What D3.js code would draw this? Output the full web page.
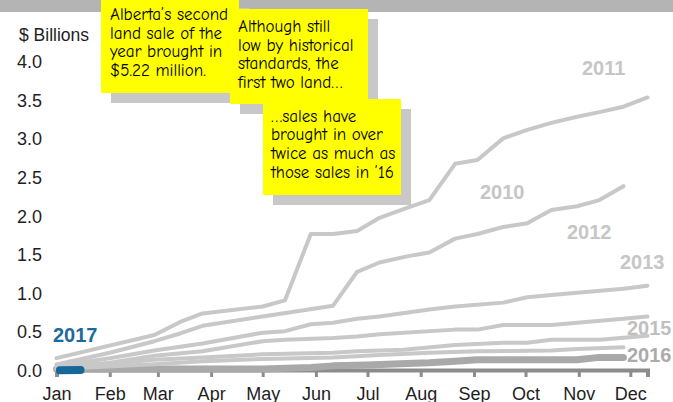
<!DOCTYPE html>
<html>
<head>
<meta charset="utf-8">
<script src="https://cdn.jsdelivr.net/npm/d3@7"></script>
<style>
  body { margin: 0; background: #fff; }
  svg { display: block; }
</style>
</head>
<body>
<script>
// ---------- DATA ----------
const monthLabels = ["Jan","Feb","Mar","Apr","May","Jun","Jul","Aug","Sep","Oct","Nov","Dec"];
const yTicks = [0, 0.5, 1.0, 1.5, 2.0, 2.5, 3.0, 3.5, 4.0];

// cumulative land sale revenue, $ billions, by sale date (MM-DD)
const s2011 = [["01-01",0.16],["02-27",0.46],["03-14",0.63],["03-27",0.74],["05-01",0.83],["05-14",0.91],
  ["05-29",1.77],["06-11",1.77],["06-25",1.81],["07-08",1.98],["07-24",2.11],["08-06",2.21],["08-21",2.68],
  ["09-03",2.73],["09-18",3.01],["10-02",3.12],["10-16",3.21],["10-31",3.29],["11-13",3.35],["11-27",3.42],["12-11",3.54]];
const s2010 = [["01-01",0.08],["02-01",0.23],["02-27",0.38],["03-14",0.48],["03-27",0.58],["05-01",0.70],
  ["06-11",0.84],["06-25",1.28],["07-08",1.40],["07-24",1.48],["08-06",1.53],["08-21",1.71],["09-03",1.77],
  ["09-18",1.86],["10-02",1.91],["10-16",2.08],["10-31",2.13],["11-13",2.21],["11-27",2.39]];
const s2012 = [["01-01",0.06],["02-01",0.16],["02-27",0.26],["03-27",0.35],["05-01",0.49],["05-14",0.51],
  ["05-29",0.60],["06-11",0.62],["06-25",0.67],["07-08",0.70],["08-06",0.79],["08-21",0.83],["09-18",0.88],
  ["10-02",0.95],["10-16",0.98],["11-27",1.06],["12-11",1.10]];
const s2013 = [["01-01",0.04],["02-01",0.10],["02-27",0.19],["03-27",0.25],["05-01",0.38],["05-14",0.40],
  ["06-11",0.42],["06-25",0.44],["07-08",0.47],["08-21",0.53],["09-03",0.53],["09-18",0.59],["10-16",0.59],
  ["11-27",0.67],["12-11",0.70]];
const s2014 = [["01-01",0.03],["02-27",0.14],["03-27",0.17],["05-01",0.21],["06-11",0.23],["06-25",0.25],
  ["07-22",0.27],["08-21",0.33],["09-18",0.36],["10-02",0.36],["10-16",0.40],["11-13",0.40],["12-11",0.45]];
const s2015 = [["01-01",0.02],["02-27",0.08],["03-27",0.12],["05-01",0.15],["06-11",0.17],["07-08",0.20],
  ["08-06",0.23],["09-03",0.25],["10-16",0.26],["10-31",0.28],["11-27",0.30]];
const s2016 = [["01-01",0.02],["05-01",0.02],["05-29",0.04],["06-11",0.06],["07-01",0.07],["07-24",0.09],
  ["08-06",0.10],["08-21",0.12],["09-03",0.14],["10-31",0.14],["11-13",0.17],["11-27",0.17]];
const s2017 = [["01-03",0.002],["01-15",0.007]];

const notes1 = ["Alberta\u2019s second","land sale of the","year brought in","$5.22 million."];
const notes2 = ["Although still","low by historical","standards, the","first two land\u2026"];
const notes3 = ["\u2026sales have","brought in over","twice as much as","those sales in \u201916"];

// ---------- CHART ----------
const W = 673, H = 402;
const svg = d3.select("body").append("svg").attr("width", W).attr("height", H);
const parse = s => d3.timeParse("%Y-%m-%d")("2017-" + s);

const x = d3.scaleTime().domain([parse("01-01"), parse("12-11")]).range([56.5, 647.5]);
const y = d3.scaleLinear().domain([0, 4]).range([370.5, 62]);

// top grey band
svg.append("rect").attr("x",0).attr("y",0).attr("width",W).attr("height",12).attr("fill","#b4b4b4");

// y axis labels
const yAx = svg.append("g").attr("transform","translate(42,0)")
  .call(d3.axisLeft(y).tickValues(yTicks).tickSize(0).tickPadding(0).tickFormat(d3.format(".1f")));
yAx.select(".domain").remove();
yAx.selectAll("text").attr("font-family","'Liberation Sans', Arial, sans-serif").attr("font-size",18).attr("fill","#1e1e1e");

svg.append("text").attr("x",19).attr("y",41).text("$ Billions")
  .attr("font-family","'Liberation Sans', Arial, sans-serif").attr("font-size",17.5).attr("fill","#1e1e1e");

// x axis
const xAx = svg.append("g").attr("transform","translate(0,370)")
  .call(d3.axisBottom(x).ticks(d3.timeMonth.every(1)).tickSizeOuter(0).tickSize(7).tickPadding(10)
    .tickFormat(d => monthLabels[d.getMonth()]));
xAx.select(".domain").attr("stroke","#8c8c8c").attr("stroke-width",4);
xAx.selectAll(".tick line").attr("stroke","#8c8c8c").attr("stroke-width",3);
xAx.selectAll("text").attr("font-family","'Liberation Sans', Arial, sans-serif").attr("font-size",18).attr("fill","#1e1e1e");

// year labels
const yearLabels = [
  {t:"2011", x:582, y:75, c:"#c6c6c6"},
  {t:"2010", x:480, y:199, c:"#c6c6c6"},
  {t:"2012", x:567, y:239, c:"#c6c6c6"},
  {t:"2013", x:620, y:269, c:"#c6c6c6"},
  {t:"2015", x:627, y:335, c:"#bfbfbf"},
  {t:"2016", x:627, y:362, c:"#ababab"},
  {t:"2017", x:53, y:342, c:"#1b6a9c"}
];
svg.selectAll("text.yr").data(yearLabels).enter().append("text").attr("class","yr")
  .attr("x", d => d.x).attr("y", d => d.y).text(d => d.t)
  .attr("font-family","'Liberation Sans', Arial, sans-serif").attr("font-weight","bold")
  .attr("font-size",20).attr("fill", d => d.c);

// lines
const line = d3.line().x(d => x(parse(d[0]))).y(d => y(d[1]));
const series = [
  {d:s2016, c:"#a9a9a9", w:7},
  {d:s2015, c:"#c8c8c8", w:4},
  {d:s2014, c:"#c8c8c8", w:4},
  {d:s2013, c:"#c8c8c8", w:4},
  {d:s2012, c:"#c8c8c8", w:4},
  {d:s2010, c:"#c8c8c8", w:4},
  {d:s2011, c:"#c8c8c8", w:4},
  {d:s2017, c:"#16679a", w:8}
];
svg.selectAll("path.s").data(series).enter().append("path").attr("class","s")
  .attr("d", d => line(d.d)).attr("fill","none").attr("stroke", d => d.c).attr("stroke-width", d => d.w)
  .attr("stroke-linejoin","round").attr("stroke-linecap","round");

// sticky notes
const notes = [
  {x:101, y:-2, w:138, h:95, lx:110, ly:[20,38.7,57.4,76], t:notes1},
  {x:230, y:9, w:138, h:95, lx:238, ly:[32,50.7,69.4,88], t:notes2},
  {x:263, y:99, w:138, h:96, lx:271, ly:[121.5,140.3,159.2,178], t:notes3}
];
notes.forEach(n => {
  const g = svg.append("g");
  g.append("rect").attr("x", n.x + 10).attr("y", n.y + 10).attr("width", n.w).attr("height", n.h).attr("fill","#c8c8c8");
  g.append("rect").attr("x", n.x).attr("y", n.y).attr("width", n.w).attr("height", n.h).attr("fill","#ffff00");
  n.t.forEach((s, i) => {
    g.append("text").attr("x", n.lx).attr("y", n.ly[i]).text(s)
      .attr("font-family","'Comic Sans MS','Comic Neue','Open Sans',sans-serif")
      .attr("font-size",17).attr("fill","#000");
  });
});
</script>
</body>
</html>
